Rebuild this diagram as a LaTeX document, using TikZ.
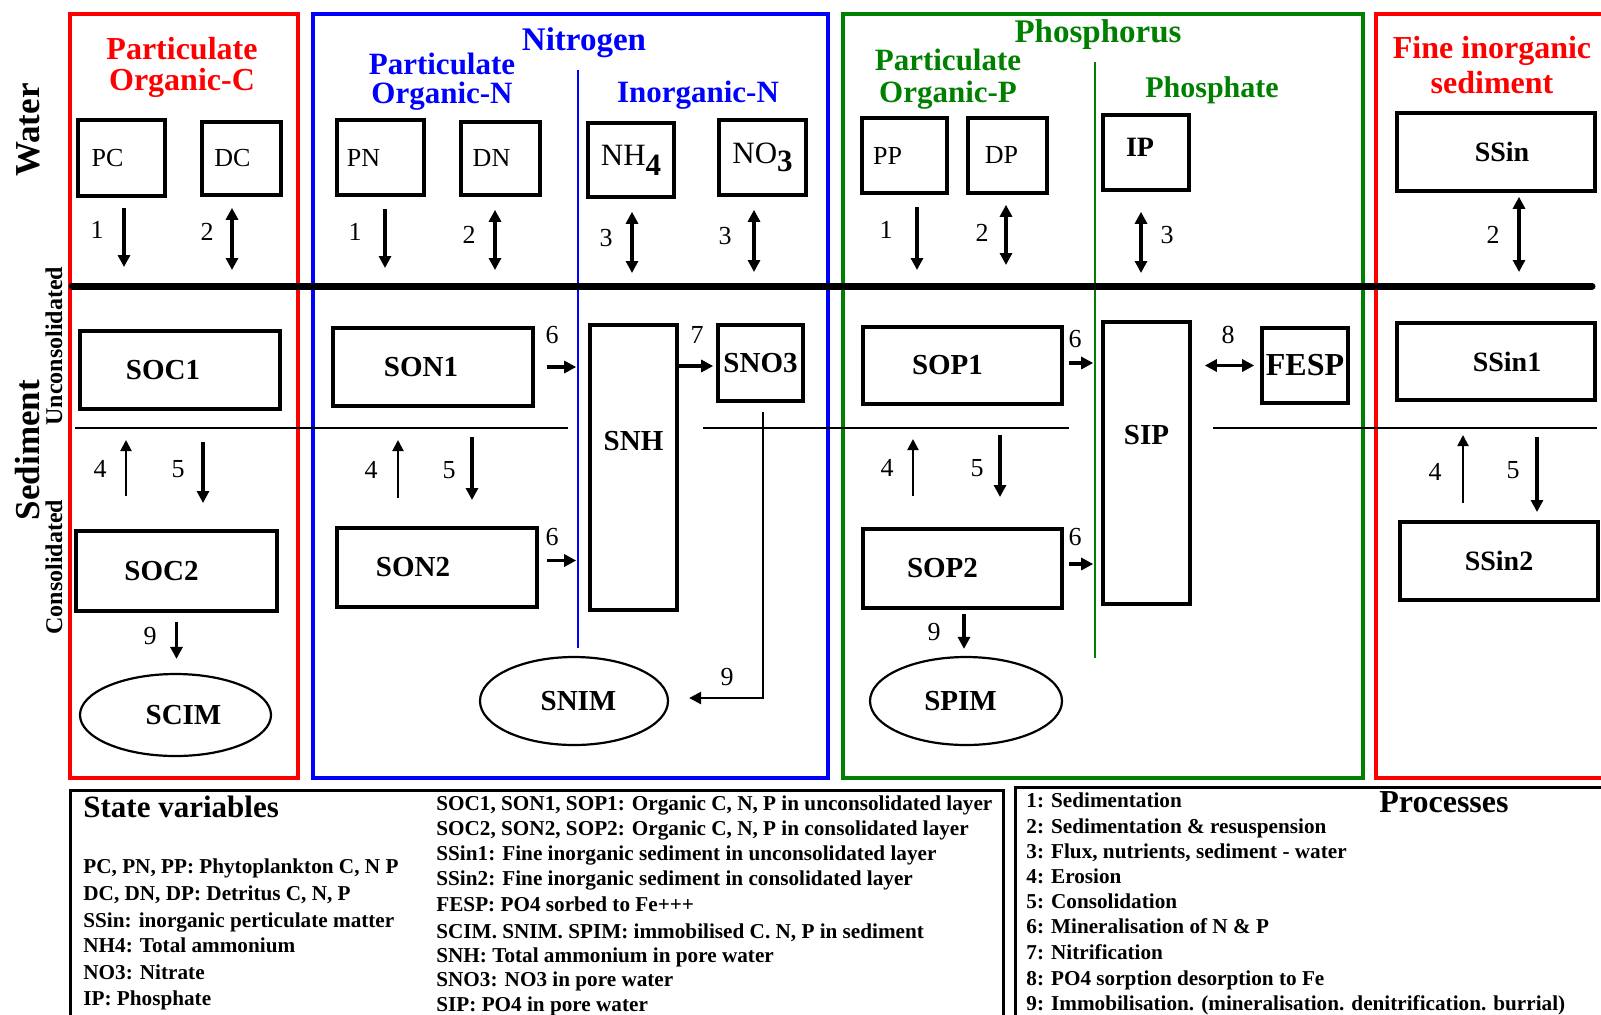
\documentclass[tikz,border=0pt]{standalone}
\usepackage{fontspec}
\setmainfont{Liberation Serif}
\usetikzlibrary{arrows.meta,shapes.geometric}
\definecolor{pgreen}{RGB}{0,128,0}
\definecolor{pred}{RGB}{255,0,0}
\definecolor{pblue}{RGB}{0,0,255}
\begin{document}
\begin{tikzpicture}[x=0.5pt,y=-0.5pt,
 box/.style={draw,line width=1.8pt,inner sep=0pt,rectangle},
 wbox/.style={box,font=\fontsize{13}{14}\selectfont},
 nbox/.style={box,font=\fontsize{15.5}{16}\selectfont},
 sbox/.style={box,font=\fontsize{14.5}{15}\selectfont\bfseries},
 imm/.style={draw,ellipse,line width=1.1pt,inner sep=0pt,font=\fontsize{14.5}{15}\selectfont\bfseries},
 ttl/.style={font=\fontsize{15.5}{15.5}\selectfont\bfseries,inner sep=0pt,align=center},
 bigttl/.style={font=\fontsize{16.5}{16.5}\selectfont\bfseries,inner sep=0pt},
 num/.style={font=\fontsize{13}{13}\selectfont,inner sep=0pt},
 arr/.style={line width=1.6pt,-{Triangle[length=6pt,width=6pt]}},
 tarr/.style={line width=1pt,-{Triangle[length=5.5pt,width=5.5pt]}},
 dbl/.style={line width=1.6pt,{Triangle[length=6pt,width=6pt]}-{Triangle[length=6pt,width=6pt]}},
 region/.style={line width=1.8pt},
 leg/.style={font=\fontsize{10.6}{12}\selectfont\bfseries,anchor=base west,inner sep=0pt},
 side/.style={font=\fontsize{17.5}{18}\selectfont\bfseries,rotate=90,inner sep=0pt},
 subside/.style={font=\fontsize{12}{12}\selectfont\bfseries,rotate=90,inner sep=0pt},
]
\useasboundingbox (0,0) rectangle (1601,1014);
\fill[white] (0,0) rectangle (1601,1014);

% regions
\draw[region,pred] (70,14) rectangle (298,778);
\draw[region,pblue] (313,14) rectangle (828,778);
\draw[region,pgreen] (843,14) rectangle (1363,778);
\draw[region,pred] (1376,14) rectangle (1650,778);

% dividers
\draw[pblue,line width=0.8pt] (578,70) -- (578,648);
\draw[pgreen,line width=0.8pt] (1095,62) -- (1095,658);

% interface lines
\draw[line width=3.5pt,line cap=round] (72,286) -- (1592,286);
\draw[line width=1pt] (75,428) -- (568,428);
\draw[line width=1pt] (703,428) -- (1069,428);
\draw[line width=1pt] (1213,428) -- (1597,428);

% side labels
\node[side] (lWater) at (28,130) {Water};
\node[side] (lSed) at (28,450) {Sediment};
\node[subside] (lUnc) at (54,346) {Unconsolidated};
\node[subside] (lCon) at (54,567) {Consolidated};

% titles
\node[ttl,pred,font=\fontsize{16}{15.5}\selectfont\bfseries] (tPOC) at (182,67) {Particulate\\Organic-C};
\node[bigttl,pblue] (tN) at (584,43) {Nitrogen};
\node[ttl,pblue,font=\fontsize{15.5}{14.5}\selectfont\bfseries] (tPON) at (442,82) {Particulate\\Organic-N};
\node[ttl,pblue] (tIN) at (698,95) {Inorganic-N};
\node[bigttl,pgreen] (tP) at (1098,35) {Phosphorus};
\node[ttl,pgreen,font=\fontsize{15.5}{16}\selectfont\bfseries] (tPOP) at (948,79) {Particulate\\Organic-P};
\node[ttl,pgreen,font=\fontsize{15}{15}\selectfont\bfseries] (tPh) at (1212,90) {Phosphate};
\node[ttl,pred,font=\fontsize{16}{17.5}\selectfont\bfseries] (tFIS) at (1492,65) {Fine inorganic\\sediment};

% water boxes
\node[wbox,minimum width=43.5pt,minimum height=38pt] (PC) at (121.5,158) {PC\hspace*{14pt}};
\node[wbox,minimum width=39.5pt,minimum height=36.5pt] (DC) at (241.5,158.5) {DC\hspace*{9pt}};
\node[wbox,minimum width=43.5pt,minimum height=37.5pt] (PN) at (380.5,157.5) {PN\hspace*{17pt}};
\node[wbox,minimum width=39.5pt,minimum height=36.5pt] (DN) at (500.5,158.5) {DN\hspace*{9pt}};
\node[nbox,minimum width=43pt,minimum height=37pt] (NH4) at (631,160) {NH\raisebox{-5pt}{\bfseries 4}};
\node[nbox,minimum width=43.5pt,minimum height=37.5pt] (NO3) at (762.5,157.5) {NO\raisebox{-4pt}{\bfseries 3}};
\node[wbox,minimum width=42.5pt,minimum height=37.5pt] (PP) at (904.5,155.5) {PP\hspace*{17pt}};
\node[wbox,minimum width=39.5pt,minimum height=37.5pt] (DP) at (1007.5,155.5) {DP\hspace*{6pt}};
\node[sbox,font=\fontsize{14}{14}\selectfont\bfseries,minimum width=43pt,minimum height=37.5pt,text depth=5pt] (IP) at (1146,152.5) {IP\hspace*{6pt}};
\node[sbox,font=\fontsize{14}{14}\selectfont\bfseries,minimum width=99pt,minimum height=39pt] (SSin) at (1496,152) {\hspace*{6pt}SSin};

% sediment boxes
\node[sbox,minimum width=100pt,minimum height=39pt] (SOC1) at (180,370) {SOC1\hspace*{17pt}};
\node[sbox,minimum width=100.5pt,minimum height=40pt] (SOC2) at (176.5,571) {SOC2\hspace*{15pt}};
\node[sbox,minimum width=100pt,minimum height=39pt] (SON1) at (433,367) {SON1\hspace*{12pt}};
\node[sbox,minimum width=100pt,minimum height=39.5pt] (SON2) at (437,567.5) {SON2\hspace*{24pt}};
\node[sbox,minimum width=43.5pt,minimum height=142.5pt,text depth=27pt] (SNH) at (633.5,467.5) {SNH};
\node[sbox,minimum width=42.5pt,minimum height=38pt] (SNO3) at (760.5,363) {SNO3};
\node[sbox,minimum width=99.5pt,minimum height=38.5pt] (SOP1) at (962.5,365.5) {SOP1\hspace*{15pt}};
\node[sbox,minimum width=99.5pt,minimum height=39.5pt] (SOP2) at (962.5,568.5) {SOP2\hspace*{20pt}};
\node[sbox,minimum width=43.5pt,minimum height=141pt,text depth=28pt] (SIP) at (1146.5,463) {SIP};
\node[sbox,font=\fontsize{16}{16}\selectfont\bfseries,minimum width=43pt,minimum height=37.5pt] (FESP) at (1305,365.5) {FESP};
\node[sbox,font=\fontsize{14}{14}\selectfont\bfseries,minimum width=99pt,minimum height=38.5pt] (SSin1) at (1496,361.5) {\hspace*{11pt}SSin1};
\node[sbox,font=\fontsize{14}{14}\selectfont\bfseries,minimum width=99pt,minimum height=39pt] (SSin2) at (1499,561) {SSin2};

% immobilised pools
\node[imm,minimum width=95.5pt,minimum height=41pt] (SCIM) at (175.5,715) {\hspace*{8pt}SCIM};
\node[imm,minimum width=94pt,minimum height=44pt] (SNIM) at (574,701) {\hspace*{4.5pt}SNIM};
\node[imm,minimum width=96pt,minimum height=44pt] (SPIM) at (966,701) {SPIM\hspace*{5.5pt}};

% interface coordinates (water -> sediment)
\coordinate (iPC) at (124,267);
\coordinate (iDC) at (232,270);
\coordinate (iPN) at (385,268);
\coordinate (iDN) at (495,270);
\coordinate (iNH) at (632,273);
\coordinate (iNO) at (754,272);
\coordinate (iPP) at (917,270);
\coordinate (iDP) at (1006,265);
\coordinate (iIP) at (1141,273);
\coordinate (iSS) at (1519,272);

\draw[arr] (PC.south -| iPC) ++(0,10) -- (iPC);
\draw[dbl] (DC.south -| iDC) ++(0,11) -- (iDC);
\draw[arr] (PN.south -| iPN) ++(0,12) -- (iPN);
\draw[dbl] (DN.south -| iDN) ++(0,13) -- (iDN);
\draw[dbl] (NH4.south -| iNH) ++(0,13) -- (iNH);
\draw[dbl] (NO3.south -| iNO) ++(0,13) -- (iNO);
\draw[arr] (PP.south -| iPP) ++(0,12) -- (iPP);
\draw[dbl] (DP.south -| iDP) ++(0,10) -- (iDP);
\draw[dbl] (IP.south -| iIP) ++(0,20) -- (iIP);
\draw[dbl] (SSin.south -| iSS) ++(0,4) -- (iSS);

% erosion (4) and consolidation (5)
\coordinate (e4C) at (126,440);  \coordinate (c5C) at (203,503);
\coordinate (e4N) at (398,440);  \coordinate (c5N) at (472,500);
\coordinate (e4P) at (913,439);  \coordinate (c5P) at (1000,497);
\coordinate (e4S) at (1463,435); \coordinate (c5S) at (1537,512);
\draw[tarr] (SOC2.north -| e4C) ++(0,-33) -- (e4C);
\draw[arr] (SOC1.south -| c5C) ++(0,31) -- (c5C);
\draw[tarr] (SON2.north -| e4N) ++(0,-28) -- (e4N);
\draw[arr] (SON1.south -| c5N) ++(0,29) -- (c5N);
\draw[tarr] (SOP2.north -| e4P) ++(0,-31) -- (e4P);
\draw[arr] (SOP1.south -| c5P) ++(0,29) -- (c5P);
\draw[tarr] (SSin2.north -| e4S) ++(0,-17) -- (e4S);
\draw[arr] (SSin1.south -| c5S) ++(0,35) -- (c5S);

% mineralisation (6)
\draw[arr,shorten <=6pt,shorten >=6pt] (SON1.east) -- (SON1.east -| SNH.west);
\draw[arr,shorten <=4pt,shorten >=6pt] ([yshift=3.5pt]SON2.east) -- ([yshift=3.5pt]SON2.east -| SNH.west);
\draw[arr,shorten <=2.5pt,shorten >=4pt] ([yshift=1.25pt]SOP1.east) -- ([yshift=1.25pt]SOP1.east -| SIP.west);
\draw[arr,shorten <=2.5pt,shorten >=4pt] ([yshift=2.25pt]SOP2.east) -- ([yshift=2.25pt]SOP2.east -| SIP.west);
% nitrification (7)
\draw[arr,shorten >=1.5pt] ([yshift=-1.5pt]SNO3.west -| SNH.east) -- ([yshift=-1.5pt]SNO3.west);
% sorption (8)
\draw[dbl,shorten <=6.5pt,shorten >=3pt] (FESP.west -| SIP.east) -- (FESP.west);
% immobilisation (9)
\draw[arr,shorten <=4.5pt,shorten >=7pt] (SOC2.south) -- (SOC2.south |- SCIM.north);
\draw[arr,shorten <=2pt,shorten >=3.5pt] ([xshift=0.75pt]SOP2.south) -- ([xshift=0.75pt]SOP2.south |- SPIM.north);
\draw[line width=1.2pt,-{Triangle[length=6pt,width=6pt]}] ([xshift=1.25pt,yshift=-4.5pt]SNO3.south) |- ([xshift=10pt,yshift=1.5pt]SNIM.east);

% process numbers
\node[num] (n1C) at (97,230) {1};
\node[num] (n2C) at (207,232) {2};
\node[num] (n1N) at (355,232) {1};
\node[num] (n2N) at (469,235) {2};
\node[num] (n3N) at (606,238) {3};
\node[num] (n3Nb) at (725,236) {3};
\node[num] (n1P) at (886,230) {1};
\node[num] (n2P) at (982,233) {2};
\node[num] (n3P) at (1167,235) {3};
\node[num] (n2S) at (1493,235) {2};
\node[num] (n4C) at (100,469) {4};
\node[num] (n5C) at (178,469) {5};
\node[num] (n4N) at (371,470) {4};
\node[num] (n5N) at (449,470) {5};
\node[num] (n4P) at (887,468) {4};
\node[num] (n5P) at (977,468) {5};
\node[num] (n4S) at (1435,472) {4};
\node[num] (n5S) at (1513,470) {5};
\node[num] (n6Na) at (552,335) {6};
\node[num] (n6Nb) at (552,537) {6};
\node[num] (n7N) at (697,335) {7};
\node[num] (n9N) at (727,677) {9};
\node[num] (n6Pa) at (1075,339) {6};
\node[num] (n6Pb) at (1075,537) {6};
\node[num] (n8P) at (1228,335) {8};
\node[num] (n9P) at (934,632) {9};
\node[num] (n9C) at (150,636) {9};

% legend boxes
\draw[line width=1.5pt] (70,790) rectangle (1003,1040);
\draw[line width=1.5pt] (1015,787) rectangle (1650,1040);

\node[leg,font=\fontsize{15.5}{16}\selectfont\bfseries] (svt) at (83,817) {State variables};
\node[leg] (sv1) at (83,873) {PC, PN, PP: Phytoplankton C, N P};
\node[leg] (sv2) at (83,900) {DC, DN, DP: Detritus C, N, P};
\node[leg] (sv3) at (83,927) {SSin: inorganic perticulate matter};
\node[leg] (sv4) at (83,952) {NH4: Total ammonium};
\node[leg] (sv5) at (83,979) {NO3: Nitrate};
\node[leg] (sv6) at (83,1005) {IP: Phosphate};

\begin{scope}
\clip (70,780) rectangle (1001,1014);
\node[leg] (sm1) at (436,810) {SOC1, SON1, SOP1: Organic C, N, P in unconsolidated layer};
\node[leg] (sm2) at (436,835) {SOC2, SON2, SOP2: Organic C, N, P in consolidated layer};
\node[leg] (sm3) at (436,860) {SSin1: Fine inorganic sediment in unconsolidated layer};
\node[leg] (sm4) at (436,885) {SSin2: Fine inorganic sediment in consolidated layer};
\node[leg] (sm5) at (436,911) {FESP: PO4 sorbed to Fe+++};
\node[leg] (sm6) at (436,938) {SCIM. SNIM. SPIM: immobilised C. N, P in sediment};
\node[leg] (sm7) at (436,962) {SNH: Total ammonium in pore water};
\node[leg] (sm8) at (436,986) {SNO3: NO3 in pore water};
\node[leg] (sm9) at (436,1011) {SIP: PO4 in pore water};
\end{scope}

\node[leg,font=\fontsize{16}{16}\selectfont\bfseries] (prt) at (1379,812) {Processes};
\node[leg] (p1) at (1026,807) {1: Sedimentation};
\node[leg] (p2) at (1026,833) {2: Sedimentation \& resuspension};
\node[leg] (p3) at (1026,858) {3: Flux, nutrients, sediment - water};
\node[leg] (p4) at (1026,883) {4: Erosion};
\node[leg] (p5) at (1026,908) {5: Consolidation};
\node[leg] (p6) at (1026,933) {6: Mineralisation of N \& P};
\node[leg] (p7) at (1026,959) {7: Nitrification};
\node[leg] (p8) at (1026,985) {8: PO4 sorption desorption to Fe};
\node[leg] (p9) at (1026,1010) {9: Immobilisation. (mineralisation. denitrification. burrial)};
\end{tikzpicture}
\end{document}
